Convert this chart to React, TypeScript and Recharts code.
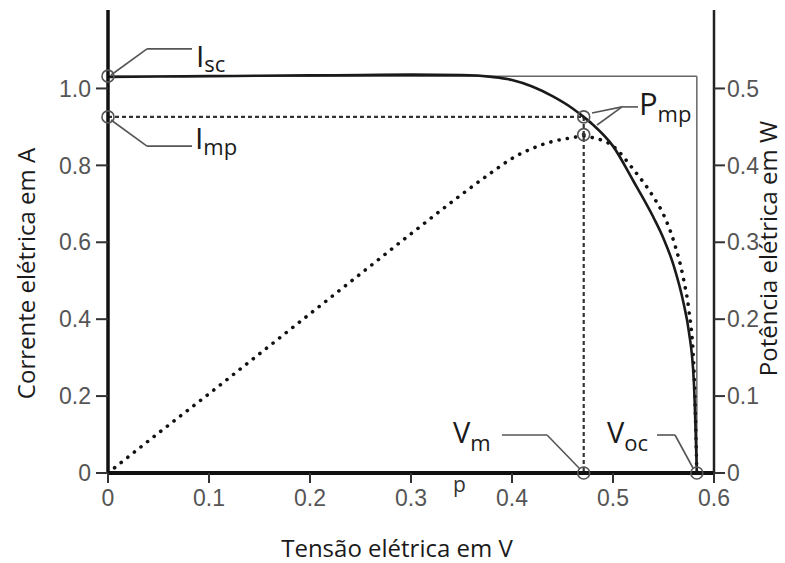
import React from 'react';
import { ComposedChart, Line, XAxis, YAxis, ReferenceLine, ReferenceDot, Label } from 'recharts';

// ---- data ----
const voltage = [0, 0.05, 0.1, 0.15, 0.2, 0.25, 0.3, 0.35, 0.38, 0.4, 0.42, 0.44, 0.46, 0.47, 0.48, 0.5, 0.52, 0.54, 0.55, 0.56, 0.57, 0.575, 0.58, 0.583];
const current = [1.03, 1.031, 1.032, 1.033, 1.034, 1.035, 1.036, 1.035, 1.03, 1.022, 1.005, 0.98, 0.948, 0.928, 0.906, 0.85, 0.76, 0.665, 0.61, 0.54, 0.44, 0.37, 0.24, 0];
const power = [0, 0.052, 0.103, 0.155, 0.207, 0.259, 0.311, 0.362, 0.391, 0.409, 0.422, 0.431, 0.436, 0.438, 0.436, 0.425, 0.395, 0.359, 0.336, 0.302, 0.251, 0.213, 0.139, 0];

const xTicks = [0, 0.1, 0.2, 0.3, 0.4, 0.5, 0.6];
const xTickLabels = ['0', '0.1', '0.2', '0.3', '0.4', '0.5', '0.6'];
const currentTicks = [0, 0.2, 0.4, 0.6, 0.8, 1.0];
const currentTickLabels = ['0', '0.2', '0.4', '0.6', '0.8', '1.0'];
const powerTicks = [0, 0.1, 0.2, 0.3, 0.4, 0.5];
const powerTickLabels = ['0', '0.1', '0.2', '0.3', '0.4', '0.5'];

// key points
const Isc = 1.032;
const Imp = 0.926;
const Vmp = 0.471;
const Voc = 0.583;
const Pmp = 0.44;

const table = voltage.map((v, k) => ({ v, i: current[k], p: power[k] }));

const FONT = "'Open Sans', sans-serif";
const TICK_FONT = "'Liberation Sans', Arial, sans-serif";
const GREY = '#555';

const annot = (main: string, sub: string, mainSize: number, subDy: number) => (props: any) => (
  <text x={props.cx} y={props.cy} fill="#1a1a1a" fontFamily={FONT} fontSize={mainSize}>
    {main}
    <tspan fontSize={22} dy={subDy}>{sub}</tspan>
  </text>
);

const plain = (txt: string, size: number) => (props: any) => (
  <text x={props.cx} y={props.cy} fill="#333" fontFamily={FONT} fontSize={size}>{txt}</text>
);

const XTitle = (props: any) => {
  const vb = props.viewBox || { x: 108, y: 473, width: 606, height: 90 };
  return (
    <text x={vb.x + vb.width / 2 - 14} y={vb.y + 84} textAnchor="middle" fill="#1a1a1a" fontFamily={FONT} fontSize={24}>
      Tensão elétrica em V
    </text>
  );
};

const LeftTitle = (props: any) => {
  const vb = props.viewBox || { x: 0, y: 10, width: 108, height: 463 };
  const x = vb.x + 35;
  const y = vb.y + vb.height / 2 + 32;
  return (
    <text x={x} y={y} transform={`rotate(-90 ${x} ${y})`} textAnchor="middle" fill="#1a1a1a" fontFamily={FONT} fontSize={24}>
      Corrente elétrica em A
    </text>
  );
};

const RightTitle = (props: any) => {
  const vb = props.viewBox || { x: 714, y: 10, width: 71, height: 463 };
  const x = vb.x + 63;
  const y = vb.y + vb.height / 2 + 7;
  return (
    <text x={x} y={y} transform={`rotate(-90 ${x} ${y})`} textAnchor="middle" fill="#1a1a1a" fontFamily={FONT} fontSize={24}>
      Potência elétrica em W
    </text>
  );
};

const tickStyle = { fill: GREY, fontSize: 23, fontFamily: TICK_FONT };

const lead = { stroke: GREY, strokeWidth: 1.6 };
const axes = { xAxisId: 'bottom', yAxisId: 'left' } as const;

export default function App() {
  return (
    <div style={{ position: 'absolute', left: 0, top: 0, background: '#fff' }}>
      <ComposedChart width={785} height={563} data={table} margin={{ top: 10, right: 0, bottom: 0, left: 0 }}>
        <XAxis
          xAxisId="bottom"
          type="number"
          dataKey="v"
          domain={[0, 0.6]}
          ticks={xTicks}
          tickFormatter={(_v: number, idx: number) => xTickLabels[idx]}
          height={90}
          tickSize={10}
          tickMargin={7}
          axisLine={{ stroke: '#111', strokeWidth: 4 }}
          tickLine={{ stroke: '#333', strokeWidth: 2 }}
          tick={tickStyle}
          allowDataOverflow
        >
          <Label content={XTitle} />
        </XAxis>
        <XAxis
          xAxisId="top"
          orientation="top"
          type="number"
          dataKey="v"
          domain={[0, 0.6]}
          ticks={xTicks}
          height={0}
          mirror
          tick={false}
          tickSize={10}
          axisLine={{ stroke: '#222', strokeWidth: 2.5 }}
          tickLine={{ stroke: '#333', strokeWidth: 2 }}
          allowDataOverflow
        />
        <YAxis
          yAxisId="left"
          type="number"
          domain={[0, 1.204]}
          ticks={currentTicks}
          tickFormatter={(_v: number, idx: number) => currentTickLabels[idx]}
          width={108}
          tickSize={12}
          tickMargin={5}
          axisLine={{ stroke: '#111', strokeWidth: 3.5 }}
          tickLine={{ stroke: '#333', strokeWidth: 2 }}
          tick={tickStyle}
          allowDataOverflow
        >
          <Label content={LeftTitle} />
        </YAxis>
        <YAxis
          yAxisId="right"
          orientation="right"
          type="number"
          domain={[0, 0.602]}
          ticks={powerTicks}
          tickFormatter={(_v: number, idx: number) => powerTickLabels[idx]}
          width={71}
          tickSize={11}
          tickMargin={2}
          axisLine={{ stroke: '#222', strokeWidth: 2.5 }}
          tickLine={{ stroke: '#333', strokeWidth: 2 }}
          tick={tickStyle}
          allowDataOverflow
        >
          <Label content={RightTitle} />
        </YAxis>

        {/* Isc x Voc rectangle */}
        <ReferenceLine {...axes} segment={[{ x: 0, y: Isc }, { x: Voc, y: Isc }]} stroke="#666" strokeWidth={1.5} ifOverflow="visible" />
        <ReferenceLine {...axes} segment={[{ x: Voc, y: Isc }, { x: Voc, y: 0 }]} stroke="#666" strokeWidth={1.5} ifOverflow="visible" />

        {/* maximum power point dashed lines */}
        <ReferenceLine {...axes} segment={[{ x: 0, y: Imp }, { x: Vmp, y: Imp }]} stroke="#333" strokeWidth={2.2} strokeDasharray="4 3" ifOverflow="visible" />
        <ReferenceLine {...axes} segment={[{ x: Vmp, y: Imp }, { x: Vmp, y: 0 }]} stroke="#333" strokeWidth={2.2} strokeDasharray="4 3" ifOverflow="visible" />

        <Line xAxisId="bottom" yAxisId="right" dataKey="p" type="monotone" stroke="#111" strokeWidth={3.6} strokeDasharray="0.1 8.3" strokeLinecap="round" dot={false} activeDot={false} isAnimationActive={false} />
        <Line xAxisId="bottom" yAxisId="left" dataKey="i" type="monotone" stroke="#1a1a1a" strokeWidth={2.6} dot={false} activeDot={false} isAnimationActive={false} />

        {/* leader lines */}
        <ReferenceLine {...axes} segment={[{ x: 0.003, y: 1.035 }, { x: 0.0386, y: 1.103 }]} {...lead} ifOverflow="visible" />
        <ReferenceLine {...axes} segment={[{ x: 0.0386, y: 1.103 }, { x: 0.0832, y: 1.103 }]} {...lead} ifOverflow="visible" />
        <ReferenceLine {...axes} segment={[{ x: 0.003, y: 0.918 }, { x: 0.0386, y: 0.85 }]} {...lead} ifOverflow="visible" />
        <ReferenceLine {...axes} segment={[{ x: 0.0386, y: 0.85 }, { x: 0.0832, y: 0.85 }]} {...lead} ifOverflow="visible" />
        <ReferenceLine {...axes} segment={[{ x: 0.5089, y: 0.952 }, { x: 0.5248, y: 0.952 }]} {...lead} ifOverflow="visible" />
        <ReferenceLine {...axes} segment={[{ x: 0.5089, y: 0.952 }, { x: 0.4792, y: 0.936 }]} {...lead} ifOverflow="visible" />
        <ReferenceLine {...axes} segment={[{ x: 0.5089, y: 0.952 }, { x: 0.4842, y: 0.905 }]} {...lead} ifOverflow="visible" />
        <ReferenceLine {...axes} segment={[{ x: 0.39, y: 0.0988 }, { x: 0.4347, y: 0.0988 }]} {...lead} ifOverflow="visible" />
        <ReferenceLine {...axes} segment={[{ x: 0.4347, y: 0.0988 }, { x: 0.4673, y: 0.0104 }]} {...lead} ifOverflow="visible" />
        <ReferenceLine {...axes} segment={[{ x: 0.5436, y: 0.0988 }, { x: 0.5614, y: 0.0988 }]} {...lead} ifOverflow="visible" />
        <ReferenceLine {...axes} segment={[{ x: 0.5614, y: 0.0988 }, { x: 0.5792, y: 0.013 }]} {...lead} ifOverflow="visible" />

        {/* marker circles */}
        <ReferenceDot {...axes} x={0} y={Isc} r={6} fill="none" stroke={GREY} strokeWidth={1.6} ifOverflow="visible" />
        <ReferenceDot {...axes} x={0} y={Imp} r={6} fill="none" stroke={GREY} strokeWidth={1.6} ifOverflow="visible" />
        <ReferenceDot {...axes} x={Vmp} y={Imp} r={6} fill="none" stroke={GREY} strokeWidth={1.6} ifOverflow="visible" />
        <ReferenceDot xAxisId="bottom" yAxisId="right" x={Vmp} y={Pmp} r={6} fill="none" stroke={GREY} strokeWidth={1.6} ifOverflow="visible" />
        <ReferenceDot xAxisId="bottom" yAxisId="right" x={Vmp} y={Pmp} r={2} fill="#333" stroke="none" ifOverflow="visible" />
        <ReferenceDot {...axes} x={Vmp} y={0} r={6} fill="none" stroke={GREY} strokeWidth={1.6} ifOverflow="visible" />
        <ReferenceDot {...axes} x={Voc} y={0} r={6} fill="none" stroke={GREY} strokeWidth={1.6} ifOverflow="visible" />

        {/* annotation texts */}
        <ReferenceDot {...axes} x={0.0871} y={1.056} r={1} shape={annot('I', 'sc', 30, 5)} ifOverflow="visible" />
        <ReferenceDot {...axes} x={0.0861} y={0.8427} r={1} shape={annot('I', 'mp', 30, 6)} ifOverflow="visible" />
        <ReferenceDot {...axes} x={0.5257} y={0.931} r={1} shape={annot('P', 'mp', 31, 7)} ifOverflow="visible" />
        <ReferenceDot {...axes} x={0.3416} y={0.078} r={1} shape={annot('V', 'm', 29, 8)} ifOverflow="visible" />
        <ReferenceDot {...axes} x={0.494} y={0.078} r={1} shape={annot('V', 'oc', 29, 8)} ifOverflow="visible" />
        <ReferenceDot {...axes} x={0.3416} y={-0.0494} r={1} shape={plain('p', 21)} ifOverflow="visible" />
      </ComposedChart>
    </div>
  );
}
